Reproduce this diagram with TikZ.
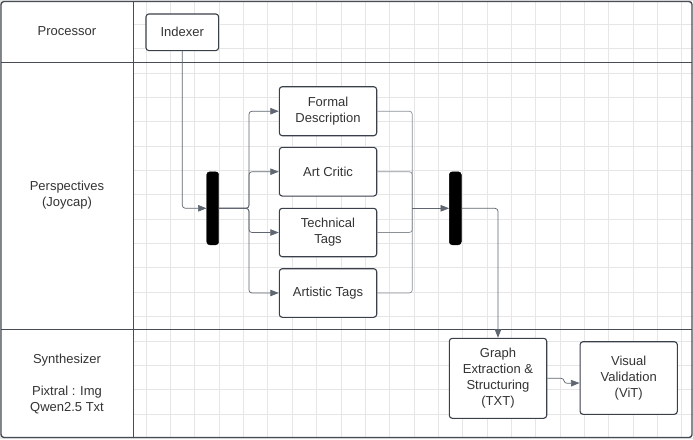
\documentclass[tikz,border=0pt]{standalone}
\usepackage{fontspec}
\setmainfont{Liberation Sans}
\usetikzlibrary{arrows.meta,calc}
\definecolor{gridc}{HTML}{E6E6E6}
\definecolor{framec}{HTML}{474D56}
\definecolor{boxc}{HTML}{3A4049}
\definecolor{txtc}{HTML}{333333}
\definecolor{connc}{HTML}{5F6670}
\definecolor{connl}{HTML}{8C9198}
\tikzset{
  box/.style={draw=boxc, line width=1.1pt, rounded corners=3pt, fill=white, text=txtc,
    font=\fontsize{13}{16}\selectfont, align=center, inner sep=0pt},
  bar/.style={fill=black, draw=black, rounded corners=3pt, minimum width=12pt, minimum height=73pt, inner sep=0pt},
  conn/.style={draw=connc, line width=0.7pt, rounded corners=3pt, -{Triangle[length=8.5pt,width=6.5pt]}},
  connr/.style={draw=connl, line width=0.7pt, rounded corners=3pt},
  lane/.style={text=txtc, font=\fontsize{13}{16}\selectfont, align=center}
}
\begin{document}
\begin{tikzpicture}[x=1pt,y=-1pt]
\useasboundingbox (0,0) rectangle (693,439);
\fill[white] (0,0) rectangle (693,439);
% grid
\foreach \i in {0,...,28} \draw[gridc, line width=0.8pt] (\i*24.35,0) -- (\i*24.35,439);
\foreach \j in {0,...,18} \draw[gridc, line width=0.8pt] (0,\j*24.35) -- (693,\j*24.35);
% lanes
\fill[white] (1,1.5) rectangle (133.5,437.5);
\draw[framec, line width=1.4pt, rounded corners=3pt] (1,1.5) rectangle (692,437.5);
\draw[framec, line width=1.4pt] (133.5,1.5) -- (133.5,437.5);
\draw[framec, line width=1.4pt] (1,62.3) -- (692,62.3);
\draw[framec, line width=1.4pt] (1,329.3) -- (692,329.3);
\node[lane] (lp) at (67,31) {Processor};
\node[lane] (lpe) at (67,195) {Perspectives\\(Joycap)};
\node[lane] (ls) at (67,384.5) {Synthesizer\\[16pt]Pixtral : Img\\Qwen2.5 Txt};
% nodes
\node[box, minimum width=72.7pt, minimum height=36.7pt] (idx) at (182.3,32.3) {Indexer};
\node[bar] (b1) at (212.7,208.3) {};
\node[bar] (b2) at (455.3,208.3) {};
\node[box, minimum width=97.4pt, minimum height=49pt] (fd) at (328,111.2) {Formal\\Description};
\node[box, minimum width=97.4pt, minimum height=48.7pt] (ac) at (328,171.7) {Art Critic};
\node[box, minimum width=97.4pt, minimum height=48.4pt] (tt) at (328,232.5) {Technical\\Tags};
\node[box, minimum width=97.4pt, minimum height=48.6pt] (at) at (328,293) {Artistic Tags};
\node[box, minimum width=97.4pt, minimum height=80pt] (gr) at (498,378.3) {Graph\\Extraction \&\\Structuring\\(TXT)};
\node[box, minimum width=97.3pt, minimum height=72.6pt] (vis) at (628.7,378) {Visual\\Validation\\(ViT)};
\coordinate (j1) at (249,208.3);
\coordinate (j2) at (412.3,208.3);
\coordinate (k1) at (561,378.3);
\coordinate (k2) at (567,383.3);
% connectors
\draw[conn] (idx.south) |- (b1.west);
\draw[conn] (b1.east) -- (j1) |- (fd.west);
\draw[conn] (b1.east) -- (j1) |- (ac.west);
\draw[conn] (b1.east) -- (j1) |- (tt.west);
\draw[conn] (b1.east) -- (j1) |- (at.west);
\draw[connr] (fd.east) -| (j2);
\draw[connr] (ac.east) -| (j2);
\draw[connr] (tt.east) -| (j2);
\draw[connr] (at.east) -| (j2);
\draw[conn] (j2) -- (b2.west);
\draw[conn] (b2.east) -| (gr.north);
\draw[conn, rounded corners=0pt] (gr.east) -- (k1) .. controls (565,378.3) and (563,383.3) .. (k2) -- ([yshift=-5pt]vis.west);
\end{tikzpicture}
\end{document}
